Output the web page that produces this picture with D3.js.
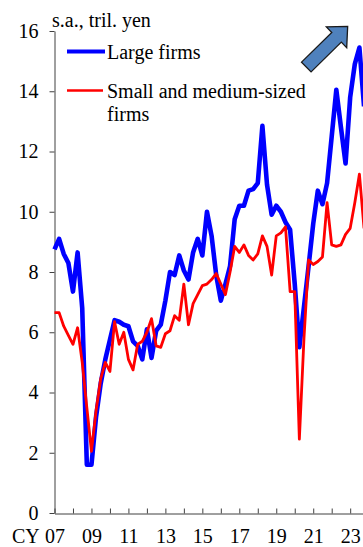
<!DOCTYPE html>
<html>
<head>
<meta charset="utf-8">
<script src="https://cdn.jsdelivr.net/npm/d3@7"></script>
<style>
  html, body { margin: 0; padding: 0; background: #fff; }
  svg { display: block; }
  text { font-family: "Liberation Serif", "Times New Roman", Times, serif; fill: #000; }
</style>
</head>
<body>
<svg id="chart" width="363" height="547"></svg>
<script>
// Ordinary profits, quarterly from CY2007 Q1 (s.a., tril. yen)
const quarters = d3.range(2007, 2024).flatMap(y => [1, 2, 3, 4].map(q => y + "Q" + q));

const largeFirms = [
  8.75, 9.1, 8.6, 8.3,     7.35, 8.65, 6.8, 1.6,
  1.6, 3.2, 4.3, 5.1,      5.75, 6.4, 6.35, 6.25,
  6.2, 5.7, 5.55, 5.1,     6.1, 5.15, 6.05, 6.25,
  7.05, 8.0, 7.9, 8.55,    8.05, 7.75, 8.65, 9.1,
  8.55, 10.0, 9.2, 7.9,    7.05, 7.6, 8.2, 9.75,
  10.2, 10.2, 10.7, 10.75, 10.95, 12.85, 10.9, 9.9,
  10.2, 10.0, 9.65, 9.4,   7.6, 5.5, 6.85, 8.2,
  9.6, 10.7, 10.25, 10.95, 12.5, 14.05, 12.8, 11.6,
  13.8, 14.9, 15.45, 13.5
];

const smeFirms = [
  6.65, 6.65, 6.2, 5.9,    5.6, 6.15, 5.0, 3.5,
  2.05, 3.4, 4.45, 5.0,    4.7, 6.35, 5.6, 6.0,
  5.1, 4.75, 5.6, 5.7,     6.0, 6.45, 5.55, 5.5,
  5.95, 6.05, 6.55, 6.4,   7.6, 6.25, 6.95, 7.25,
  7.55, 7.6, 7.75, 7.95,   7.6, 7.25, 8.0, 8.85,
  8.65, 8.9, 8.55, 8.4,    8.6, 9.2, 8.85, 7.9,
  9.2, 9.3, 9.5, 7.35,     7.35, 2.45, 5.8, 8.4,
  8.25, 8.35, 8.5, 10.3,   8.9, 8.85, 8.9, 9.25,
  9.45, 10.3, 11.25, 9.45
];

const yTicks = [0, 2, 4, 6, 8, 10, 12, 14, 16];
const tickYears = d3.range(2007, 2025);
const yearLabels = ["07", "09", "11", "13", "15", "17", "19", "21", "23"];

const seriesNames = ["Large firms", "Small and medium-sized firms"];
const unitLabel = "s.a., tril. yen";

const FONT = "Liberation Serif, Times New Roman, Times, serif";

const svg = d3.select("#chart");
svg.append("rect").attr("width", 363).attr("height", 547).attr("fill", "#fff");

const x0 = 54.5, step = 4.62;
const x = d3.scaleLinear().domain([0, 68]).range([x0, x0 + 68 * step]);
const y = d3.scaleLinear().domain([0, 16]).range([513, 31]);

const axisColor = "#404040";

// y axis
const gy = svg.append("g").attr("transform", `translate(${x0},0)`)
  .call(d3.axisLeft(y).tickValues(yTicks).tickSize(5).tickSizeOuter(0).tickPadding(11));
gy.attr("font-family", FONT);
gy.select(".domain").attr("stroke", axisColor);
gy.selectAll(".tick line").attr("stroke", axisColor);
gy.selectAll(".tick text").attr("font-size", 20).attr("fill", "#000");

// x axis: tick at each calendar year, label on odd years
const labelOf = yr => {
  const s = String(yr).slice(2);
  return yearLabels.includes(s) ? s : "";
};
const gx = svg.append("g").attr("transform", `translate(0,513.5)`)
  .call(d3.axisBottom(x)
    .tickValues(tickYears.map(yr => (yr - 2007) * 4))
    .tickFormat(v => labelOf(2007 + v / 4))
    .tickSize(-5).tickSizeOuter(0).tickPadding(15));
gx.attr("font-family", FONT);
gx.select(".domain").attr("stroke", axisColor);
gx.selectAll(".tick line").attr("stroke", axisColor);
gx.selectAll(".tick text").attr("font-size", 20).attr("fill", "#000");

svg.append("text").attr("x", 12).attr("y", 542.5).attr("font-size", 20).text("CY");

// unit label
svg.append("text").attr("x", 52).attr("y", 27).attr("font-size", 20).text(unitLabel);

// series lines
const line = d3.line().x((d, i) => x(i)).y(d => y(d));

svg.append("path").datum(largeFirms)
  .attr("d", line).attr("fill", "none")
  .attr("stroke", "#0000ff").attr("stroke-width", 4.6)
  .attr("stroke-linejoin", "round");

svg.append("path").datum(smeFirms)
  .attr("d", line).attr("fill", "none")
  .attr("stroke", "#ff0000").attr("stroke-width", 2.8)
  .attr("stroke-linejoin", "round");

// legend
const lg = svg.append("g");
lg.append("line").attr("x1", 67).attr("x2", 105).attr("y1", 51.5).attr("y2", 51.5)
  .attr("stroke", "#0000ff").attr("stroke-width", 4.2);
lg.append("text").attr("x", 107).attr("y", 59).attr("font-size", 20).text(seriesNames[0]);
lg.append("line").attr("x1", 67).attr("x2", 103).attr("y1", 90.5).attr("y2", 90.5)
  .attr("stroke", "#ff0000").attr("stroke-width", 2.7);
lg.append("text").attr("x", 107).attr("y", 98).attr("font-size", 20).text("Small and medium-sized");
lg.append("text").attr("x", 107).attr("y", 121).attr("font-size", 20).text("firms");

// upward block arrow
const L = 58, headLen = 15.6, headHalf = 14.5, shaftHalf = 6.8;
const arrowPts = [
  [0, -shaftHalf], [L - headLen, -shaftHalf], [L - headLen, -headHalf], [L, 0],
  [L - headLen, headHalf], [L - headLen, shaftHalf], [0, shaftHalf]
];
svg.append("path")
  .attr("d", d3.line()(arrowPts) + "Z")
  .attr("transform", "translate(306.3,67) rotate(-44.5)")
  .attr("fill", "#4f81bd").attr("stroke", "#1a1a1a").attr("stroke-width", 1.3)
  .attr("stroke-linejoin", "miter");
</script>
</body>
</html>
